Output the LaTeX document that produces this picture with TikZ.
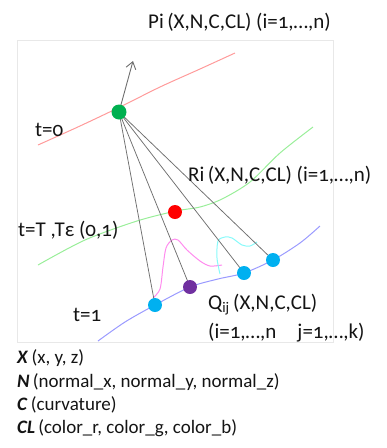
\documentclass[tikz,border=0pt]{standalone}
\usepackage{fontspec}
\setmainfont{Carlito}[Numbers=OldStyle]
\usetikzlibrary{arrows.meta}
\definecolor{txt}{HTML}{141414}
\definecolor{raygray}{HTML}{6E6E6E}
\definecolor{dotgreen}{HTML}{00B050}
\definecolor{dotred}{HTML}{FF0000}
\definecolor{dotcyan}{HTML}{00B0F0}
\definecolor{dotpurple}{HTML}{7030A0}
\definecolor{cred}{HTML}{FF9A9A}
\definecolor{cgreen}{HTML}{99EE99}
\definecolor{cblue}{HTML}{9A9AFF}
\definecolor{cpink}{HTML}{FF8CEE}
\definecolor{ccyan}{HTML}{88FAFA}
\tikzset{
  dot/.style={circle, inner sep=0pt, minimum size=14pt},
  ray/.style={draw=raygray, line width=0.75pt},
  curve/.style={line width=1pt},
  lbl/.style={anchor=west, inner sep=0pt, text=txt, font=\fontsize{21}{23}\selectfont},
  legend/.style={anchor=west, inner sep=0pt, text=txt, font=\fontsize{19}{21}\selectfont}
}
\begin{document}
\begin{tikzpicture}[x=1pt, y=-1pt]
\useasboundingbox (0,0) rectangle (387,448);
% frame
\draw[black!9, line width=0.8pt] (17,40) rectangle (333,342);
% curves
\draw[curve, cred] plot[smooth] coordinates {(38,145) (80,126) (120,107) (160,87) (200,69) (235,53)};
\draw[curve, cgreen] plot[smooth] coordinates {(38,265) (85,240) (137,221) (176,211) (200,207) (222,199) (250,182) (280,153) (313,127)};
\draw[curve, cblue] plot[smooth] coordinates {(98,341) (125,322) (155,305) (190,287) (218,279) (244,273) (273,260) (300,243) (320,226)};
\draw[curve, cpink] plot[smooth] coordinates {(153,298) (160,289) (163,267) (166,248) (172,240) (178,240) (187,250) (200,261) (210,266) (222,265)};
\draw[curve, ccyan] plot[smooth] coordinates {(220,274) (217,258) (218,241) (225,237) (232,238) (242,245) (250,246) (257,242)};
% dots (nodes)
\node[dot] (g) at (119,112) {};
\node[dot] (r) at (175,212) {};
\node[dot] (q1) at (155,305) {};
\node[dot] (q2) at (190,287) {};
\node[dot] (q3) at (244,273) {};
\node[dot] (q4) at (273,260) {};
\coordinate (tip) at (133,61);
% rays
\draw[ray] (g.center) -- (q1.center);
\draw[ray] (g.center) -- (q2.center);
\draw[ray] (g.center) -- (q3.center);
\draw[ray] (g.center) -- (q4.center);
\draw[ray, line width=0.9pt, -{Straight Barb[length=7pt, width=10pt]}] (g.center) -- (tip);
% dot fills
\fill[dotgreen] (g) circle (7.5pt);
\fill[dotred] (r) circle (7pt);
\fill[dotcyan] (q1) circle (7pt);
\fill[dotpurple] (q2) circle (7pt);
\fill[dotcyan] (q3) circle (7pt);
\fill[dotcyan] (q4) circle (7pt);
% labels
\node[lbl] (pl) at (148,22) {Pi\,(X,N,C,CL) (i=1,\ldots,n)};
\node[lbl] (t0) at (35,130) {t=0};
\node[lbl] (rl) at (188,175) {Ri\,(X,N,C,CL) (i=1,\ldots,n)};
\node[lbl] (tT) at (18,230) {t=T ,Tε (0,1)};
\node[lbl] (t1) at (73,315) {t=1};
\node[lbl] (ql) at (208,305) {Q\textsubscript{ij}\,(X,N,C,CL)};
\node[lbl] (qr) at (208,333) {(i=1,\ldots,n\quad j=1,\ldots,k)};
% legend
\node[legend] (lx) at (17,358) {\textbf{\textit{X}}\,(x, y, z)};
\node[legend] (ln) at (17,382) {\textbf{\textit{N}}\,(normal\_x, normal\_y, normal\_z)};
\node[legend] (lc) at (17,405) {\textbf{\textit{C}}\,(curvature)};
\node[legend] (lcl) at (17,428) {\textbf{\textit{CL}}\,(color\_r, color\_g, color\_b)};
\end{tikzpicture}
\end{document}
